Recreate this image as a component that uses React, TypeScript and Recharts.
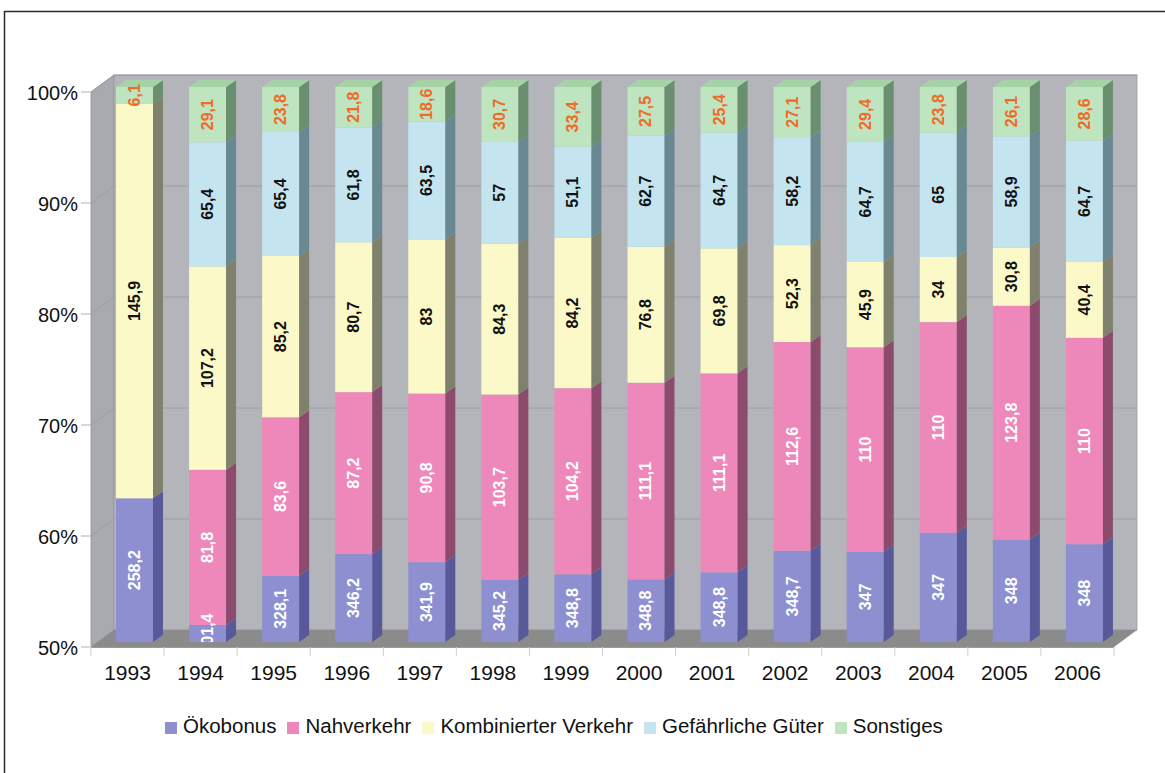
import { Bar, BarChart, XAxis, YAxis } from "recharts"

// values per year
const years = ["1993", "1994", "1995", "1996", "1997", "1998", "1999", "2000", "2001", "2002", "2003", "2004", "2005", "2006"]
const oekobonus = [258.2, 301.4, 328.1, 346.2, 341.9, 345.2, 348.8, 348.8, 348.8, 348.7, 347, 347, 348, 348]
const nahverkehr = [null, 81.8, 83.6, 87.2, 90.8, 103.7, 104.2, 111.1, 111.1, 112.6, 110, 110, 123.8, 110]
const kombiniert = [145.9, 107.2, 85.2, 80.7, 83, 84.3, 84.2, 76.8, 69.8, 52.3, 45.9, 34, 30.8, 40.4]
const gefaehrlich = [null, 65.4, 65.4, 61.8, 63.5, 57, 51.1, 62.7, 64.7, 58.2, 64.7, 65, 58.9, 64.7]
const sonstiges = [6.1, 29.1, 23.8, 21.8, 18.6, 30.7, 33.4, 27.5, 25.4, 27.1, 29.4, 23.8, 26.1, 28.6]
const yTicks = [0.5, 0.6, 0.7, 0.8, 0.9, 1]

const series = [
  { key: "oeko", name: "Ökobonus", values: oekobonus, fill: "#8d8fd0", side: "#57599b", label: "#ffffff" },
  { key: "nah", name: "Nahverkehr", values: nahverkehr, fill: "#ee88ba", side: "#8c4b6c", label: "#ffffff" },
  { key: "kombi", name: "Kombinierter Verkehr", values: kombiniert, fill: "#fbf9c8", side: "#80816c", label: "#111111" },
  { key: "gefahr", name: "Gefährliche Güter", values: gefaehrlich, fill: "#c4e5ef", side: "#688892", label: "#111111" },
  { key: "sonst", name: "Sonstiges", values: sonstiges, fill: "#bfe4c0", side: "#6a8f6e", top: "#a5d3a7", label: "#f06a28" },
]

// 100% stacking: each value as a share of the year's total, raw value kept for the label
const data = years.map((year, i) => {
  const total = series.reduce((sum, s) => sum + (s.values[i] ?? 0), 0)
  const row: any = { year }
  series.forEach((s) => {
    const v = s.values[i]
    row[s.key] = v == null ? null : v / total
    row[s.key + "Raw"] = v
  })
  return row
})

const W = 1165
const H = 773
const PLOT_LEFT = 98
const PLOT_RIGHT = 1121
const PLOT_TOP = 64.8
const PLOT_BOTTOM = 642
const Y_MIN = 0.5
const Y_MAX = 1.02
const DEPTH_X = 23
const DEPTH_Y = 17
const FRONT_DX = -7
const FRONT_DY = 5
const BAR_DX = 10
const BAR_DY = 7
const FONT = '"Liberation Sans", Arial, Helvetica, sans-serif'

const fmt = (v: number) => String(v).replace(".", ",")

// wall geometry only (layout), same mapping as the y axis
const sy = (v: number) => PLOT_TOP + ((Y_MAX - v) / (Y_MAX - Y_MIN)) * (PLOT_BOTTOM - PLOT_TOP)

function Walls() {
  const fl = PLOT_LEFT + FRONT_DX
  const fr = PLOT_RIGHT + FRONT_DX
  const bl = fl + DEPTH_X
  const br = fr + DEPTH_X
  const fy = (v: number) => sy(v) + FRONT_DY
  const by = (v: number) => fy(v) - DEPTH_Y
  const n = years.length
  return (
    <svg width={W} height={H} style={{ position: "absolute", left: 0, top: 0 }}>
      <rect x={4.5} y={11.5} width={1300} height={900} fill="#ffffff" stroke="#2a2a2a" strokeWidth={1.5} />
      <polygon points={`${fl},${fy(1)} ${bl},${by(1)} ${bl},${by(0.5)} ${fl},${fy(0.5)}`} fill="#a8aaaf" stroke="#8f9195" strokeWidth={0.8} />
      <rect x={bl} y={by(1)} width={br - bl} height={by(0.5) - by(1)} fill="#b3b5ba" stroke="#9a9ca0" strokeWidth={0.8} />
      {yTicks.map((t) => (
        <g key={t}>
          <line x1={bl} x2={br} y1={by(t)} y2={by(t)} stroke="#9c9ea2" strokeWidth={1} />
          <line x1={fl} x2={bl} y1={fy(t)} y2={by(t)} stroke="#9c9ea2" strokeWidth={1} />
          <line x1={fl - 10} x2={fl} y1={fy(t)} y2={fy(t)} stroke="#b0b0b0" strokeWidth={1} />
        </g>
      ))}
      <polygon points={`${fl},${fy(0.5)} ${bl},${by(0.5)} ${br},${by(0.5)} ${fr},${fy(0.5)}`} fill="#8b8b8b" />
      <line x1={fl} x2={fr} y1={fy(0.5) + 0.5} y2={fy(0.5) + 0.5} stroke="#9a9a9a" strokeWidth={1} />
      {Array.from({ length: n + 1 }, (_, i) => {
        const x = fl + (i * (fr - fl)) / n
        return <line key={i} x1={x} x2={x} y1={fy(0.5)} y2={fy(0.5) + 9} stroke="#cfcfcf" strokeWidth={1} />
      })}
    </svg>
  )
}

function Segment(props: any) {
  const { x, y, width, height, payload, s, isTop } = props
  if (!height || height <= 0 || isNaN(y)) return null
  const xr = x + width
  const parts = [
    <rect key="f" x={x} y={y} width={width} height={height} fill={s.fill} />,
    <polygon
      key="s"
      points={`${xr},${y} ${xr + BAR_DX},${y - BAR_DY} ${xr + BAR_DX},${y + height - BAR_DY} ${xr},${y + height}`}
      fill={s.side}
    />,
  ]
  if (isTop) {
    parts.push(
      <polygon key="t" points={`${x},${y} ${x + BAR_DX},${y - BAR_DY} ${xr + BAR_DX},${y - BAR_DY} ${xr},${y}`} fill={s.top} />
    )
    // labels for the whole stack, drawn last so nothing covers them
    const shares = series.map((ser) => Number(payload[ser.key] ?? 0))
    const k = height / shares[shares.length - 1]
    const py = (v: number) => y + (1 - v) * k
    let cum = 0
    series.forEach((ser, i) => {
      const lo = cum
      cum += shares[i]
      const hi = cum
      if (!shares[i] || hi <= Y_MIN) return
      const cy = py((Math.max(lo, Y_MIN) + hi) / 2)
      const cx = x + width / 2
      parts.push(
        <text
          key={"l" + i}
          x={cx}
          y={cy}
          transform={`rotate(-90 ${cx} ${cy})`}
          textAnchor="middle"
          dominantBaseline="central"
          fill={ser.label}
          fontSize={16}
          fontWeight="bold"
          fontFamily={FONT}
        >
          {fmt(payload[ser.key + "Raw"])}
        </text>
      )
    })
  }
  return <g>{parts}</g>
}

function YTick(props: any) {
  const { y, payload } = props
  return (
    <text x={78} y={y + 13} textAnchor="end" fontSize={20} fontFamily={FONT} fill="#111">
      {Math.round(payload.value * 100) + "%"}
    </text>
  )
}

function XTick(props: any) {
  const { x, payload } = props
  return (
    <text x={x + FRONT_DX} y={PLOT_BOTTOM + 38} textAnchor="middle" fontSize={21} fontFamily={FONT} fill="#111">
      {payload.value}
    </text>
  )
}

function LegendRow() {
  return (
    <div
      style={{
        position: "absolute",
        left: 165,
        top: 714,
        display: "flex",
        alignItems: "center",
        fontFamily: FONT,
        fontSize: 20.5,
        lineHeight: "23px",
        color: "#111",
        whiteSpace: "nowrap",
      }}
    >
      {series.map((s) => (
        <div key={s.key} style={{ display: "flex", alignItems: "center", marginRight: 11 }}>
          <span style={{ width: 12, height: 12, background: s.fill, marginRight: 6, position: "relative", top: 2 }} />
          <span>{s.name}</span>
        </div>
      ))}
    </div>
  )
}

export default function App() {
  return (
    <div style={{ position: "absolute", left: 0, top: 0, width: W, height: H, overflow: "hidden", background: "#fff" }}>
      <Walls />
      <div style={{ position: "absolute", left: 0, top: 0 }}>
        <BarChart
          width={W}
          height={H}
          data={data}
          margin={{ top: PLOT_TOP, right: W - PLOT_RIGHT, bottom: H - PLOT_BOTTOM - 40, left: 0 }}
        >
          <XAxis dataKey="year" axisLine={false} tickLine={false} height={40} interval={0} tick={<XTick />} />
          <YAxis
            type="number"
            domain={[Y_MIN, Y_MAX]}
            allowDataOverflow
            ticks={yTicks}
            width={PLOT_LEFT}
            axisLine={false}
            tickLine={false}
            tick={<YTick />}
          />
          {series.map((s, i) => (
            <Bar
              key={s.key}
              dataKey={s.key}
              name={s.name}
              stackId="a"
              fill={s.fill}
              barSize={37}
              isAnimationActive={false}
              shape={(p: any) => <Segment {...p} s={s} isTop={i === series.length - 1} />}
            />
          ))}
        </BarChart>
      </div>
      <LegendRow />
    </div>
  )
}
